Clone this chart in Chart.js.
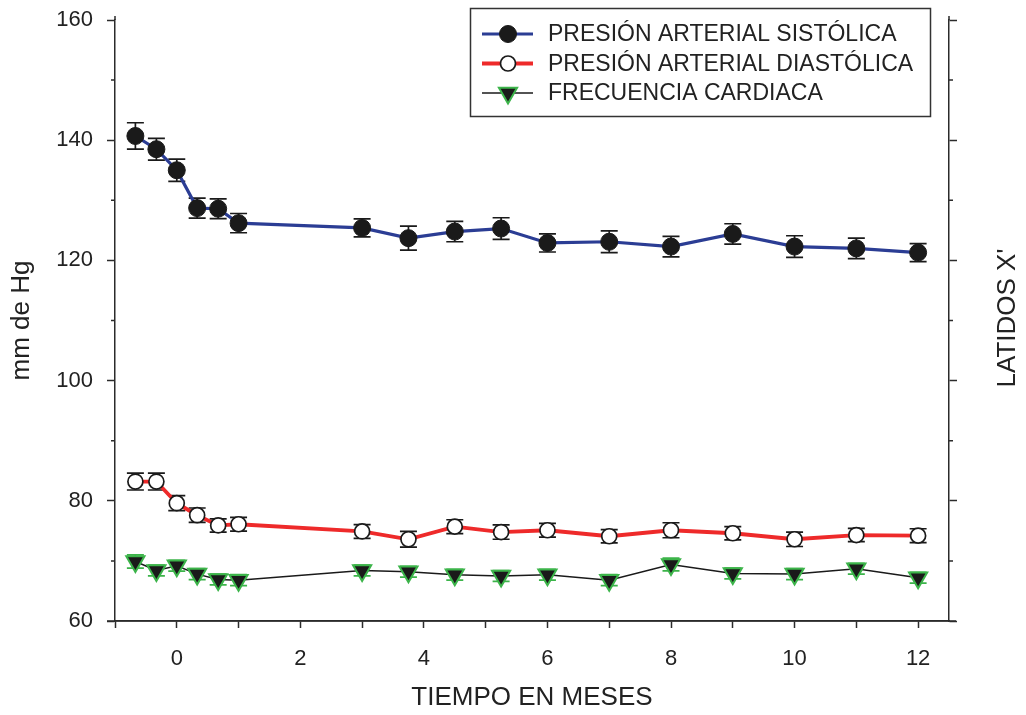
<!DOCTYPE html>
<html>
<head>
<meta charset="utf-8">
<script src="https://cdn.jsdelivr.net/npm/chart.js"></script>
<style>
  body { margin: 0; background: #fff; }
  #wrap { width: 1026px; height: 715px; }
</style>
</head>
<body>
<div id="wrap"><canvas id="grafico" width="1026" height="715"></canvas></div>
<script>
// Datos
const meses = [-0.67, -0.33, 0, 0.33, 0.67, 1, 3, 3.75, 4.5, 5.25, 6, 7, 8, 9, 10, 11, 12];
const sistolica = [140.7, 138.5, 135.0, 128.7, 128.6, 126.2, 125.4, 123.7, 124.8, 125.3, 122.9, 123.1, 122.3, 124.4, 122.3, 122.0, 121.3];
const sistolicaErr = [2.2, 1.8, 1.85, 1.65, 1.65, 1.6, 1.5, 2.0, 1.7, 1.8, 1.5, 1.8, 1.7, 1.7, 1.8, 1.7, 1.5];
const diastolica = [83.2, 83.2, 79.6, 77.6, 75.9, 76.1, 74.9, 73.6, 75.7, 74.8, 75.1, 74.1, 75.1, 74.6, 73.6, 74.3, 74.2];
const diastolicaErr = [1.4, 1.4, 1.25, 1.2, 1.1, 1.15, 1.15, 1.3, 1.15, 1.2, 1.15, 1.1, 1.25, 1.1, 1.2, 1.1, 1.15];
const frecuencia = [69.9, 68.4, 69.2, 67.8, 66.9, 66.8, 68.4, 68.2, 67.7, 67.5, 67.7, 66.8, 69.4, 67.9, 67.8, 68.7, 67.2];
const frecuenciaErr = [1.1, 0.9, 0.9, 0.9, 0.9, 0.9, 0.9, 0.9, 0.9, 0.9, 0.9, 0.9, 1.05, 0.9, 0.9, 0.9, 0.9];

const ticksX = [-1, 0, 1, 2, 3, 4, 5, 6, 7, 8, 9, 10, 11, 12];
const etiquetas = ['PRESIÓN ARTERIAL SISTÓLICA', 'PRESIÓN ARTERIAL DIASTÓLICA', 'FRECUENCIA CARDIACA'];

const FUENTE = "'Liberation Sans', Arial, sans-serif";
const EJE = '#2b2b2b';

function puntos(ys) {
    return meses.map((m, i) => ({ x: m, y: ys[i] }));
}

// Barras de error, dibujadas antes de cada serie
const barrasError = {
    id: 'barrasError',
    beforeDatasetDraw(chart, args) {
        const ds = chart.data.datasets[args.index];
        if (!ds.errores) return;
        const ctx = chart.ctx;
        const yScale = chart.scales[ds.yAxisID || 'y'];
        ctx.save();
        ctx.strokeStyle = ds.colorError;
        ctx.lineWidth = 1.7;
        args.meta.data.forEach((pt, i) => {
            const v = ds.data[i].y;
            const yTop = yScale.getPixelForValue(v + ds.errores[i]);
            const yBot = yScale.getPixelForValue(v - ds.errores[i]);
            ctx.beginPath();
            ctx.moveTo(pt.x, yTop); ctx.lineTo(pt.x, yBot);
            ctx.moveTo(pt.x - 8.5, yTop); ctx.lineTo(pt.x + 8.5, yTop);
            ctx.moveTo(pt.x - 8.5, yBot); ctx.lineTo(pt.x + 8.5, yBot);
            ctx.stroke();
        });
        ctx.restore();
    }
};

function marca(ctx, ds, x, y) {
    ctx.fillStyle = ds.pointBackgroundColor;
    ctx.strokeStyle = ds.pointBorderColor;
    ctx.lineWidth = ds.pointBorderWidth;
    Chart.helpers.drawPoint(ctx, {
        pointStyle: ds.pointStyle,
        radius: ds.pointRadius,
        rotation: ds.pointRotation || 0,
        borderWidth: ds.pointBorderWidth
    }, x, y);
}

// Marcas menores, prolongación del eje X, título derecho y leyenda
const decoracion = {
    id: 'decoracion',
    afterDraw(chart) {
        const ctx = chart.ctx;
        const area = chart.chartArea;
        ctx.save();
        ctx.strokeStyle = EJE;
        ctx.lineWidth = 1.5;
        ctx.beginPath();
        [70, 90, 110, 130, 150].forEach(v => {
            const py = chart.scales.y.getPixelForValue(v);
            ctx.moveTo(area.left, py); ctx.lineTo(area.left - 4, py);
            const py2 = chart.scales.y2.getPixelForValue(v);
            ctx.moveTo(area.right, py2); ctx.lineTo(area.right + 4, py2);
        });
        ctx.moveTo(area.left - 8, area.bottom); ctx.lineTo(area.right + 7, area.bottom);
        ctx.moveTo(area.left, area.top); ctx.lineTo(area.left, area.top - 4);
        ctx.moveTo(area.right, area.top); ctx.lineTo(area.right, area.top - 4);
        ctx.stroke();

        // título del eje derecho
        ctx.fillStyle = '#222';
        ctx.font = '26px ' + FUENTE;
        ctx.textAlign = 'center';
        ctx.textBaseline = 'middle';
        ctx.translate(1008, 318);
        ctx.rotate(-Math.PI / 2);
        ctx.fillText("LATIDOS X'", 0, 0);
        ctx.restore();

        // leyenda
        ctx.save();
        ctx.strokeStyle = '#333';
        ctx.lineWidth = 1.5;
        ctx.strokeRect(470.5, 8.5, 460, 108);
        ctx.font = '23px ' + FUENTE;
        ctx.textAlign = 'left';
        ctx.textBaseline = 'middle';
        chart.data.datasets.forEach((ds, i) => {
            const y = 34 + i * 29.5;
            ctx.strokeStyle = ds.borderColor;
            ctx.lineWidth = ds.borderWidth;
            ctx.beginPath();
            ctx.moveTo(482, y); ctx.lineTo(533, y);
            ctx.stroke();
            marca(ctx, ds, 508, y);
            ctx.fillStyle = '#222';
            ctx.fillText(ds.label, 548, y + 1);
        });
        ctx.restore();
    }
};

function sinMargenVertical(s, ancho) {
    s.width = ancho;
    s.paddingTop = 0;
    s.paddingBottom = 0;
}

const ctx = document.getElementById('grafico').getContext('2d');
new Chart(ctx, {
    type: 'scatter',
    data: {
        datasets: [
            {
                label: etiquetas[0],
                data: puntos(sistolica),
                errores: sistolicaErr,
                colorError: '#1a1a1a',
                showLine: true,
                borderColor: '#2b3d94',
                borderWidth: 3.2,
                pointStyle: 'circle',
                pointRadius: 8.5,
                pointBackgroundColor: '#1a1a1a',
                pointBorderColor: '#1a1a1a',
                pointBorderWidth: 1
            },
            {
                label: etiquetas[1],
                data: puntos(diastolica),
                errores: diastolicaErr,
                colorError: '#1a1a1a',
                showLine: true,
                borderColor: '#ee2a2a',
                borderWidth: 3.8,
                pointStyle: 'circle',
                pointRadius: 7.5,
                pointBackgroundColor: '#ffffff',
                pointBorderColor: '#1a1a1a',
                pointBorderWidth: 1.7
            },
            {
                label: etiquetas[2],
                data: puntos(frecuencia),
                errores: frecuenciaErr,
                colorError: '#3cb44a',
                yAxisID: 'y2',
                showLine: true,
                borderColor: '#1a1a1a',
                borderWidth: 1.5,
                pointStyle: 'triangle',
                pointRotation: 180,
                pointRadius: 10.5,
                pointBackgroundColor: '#1a1a1a',
                pointBorderColor: '#3cb44a',
                pointBorderWidth: 2
            }
        ]
    },
    options: {
        responsive: false,
        animation: false,
        layout: { padding: { top: 20, left: 0, right: 0, bottom: 0 } },
        plugins: {
            legend: { display: false },
            tooltip: { enabled: false }
        },
        scales: {
            x: {
                type: 'linear',
                min: -1,
                max: 12.5,
                afterFit: (s) => { s.height = 94; s.paddingLeft = 0; s.paddingRight = 0; },
                afterBuildTicks: (s) => { s.ticks = ticksX.map(v => ({ value: v })); },
                ticks: {
                    autoSkip: false,
                    maxRotation: 0,
                    padding: 18,
                    color: '#222',
                    font: { family: FUENTE, size: 22 },
                    callback: (v) => (v % 2 === 0 && v >= 0) ? String(v) : ''
                },
                grid: {
                    drawOnChartArea: false,
                    tickLength: 7,
                    tickWidth: 1.5,
                    tickColor: EJE
                },
                border: { color: EJE, width: 1.5 },
                title: {
                    display: true,
                    text: 'TIEMPO EN MESES',
                    color: '#222',
                    font: { family: FUENTE, size: 26 },
                    padding: { top: 0, bottom: 2 }
                }
            },
            y: {
                position: 'left',
                min: 60,
                max: 160,
                afterFit: (s) => sinMargenVertical(s, 115),
                ticks: {
                    stepSize: 10,
                    padding: 14,
                    color: '#222',
                    font: { family: FUENTE, size: 22 },
                    callback: (v) => (v % 20 === 0) ? String(v) : ''
                },
                grid: {
                    drawOnChartArea: false,
                    tickLength: 8,
                    tickWidth: 1.5,
                    tickColor: (c) => (c.tick && c.tick.value % 20 === 0) ? EJE : 'rgba(0,0,0,0)'
                },
                border: { color: EJE, width: 1.5 },
                title: {
                    display: true,
                    text: 'mm de Hg',
                    color: '#222',
                    font: { family: FUENTE, size: 26 },
                    padding: { top: 6, bottom: 0 }
                }
            },
            y2: {
                position: 'right',
                min: 60,
                max: 160,
                afterFit: (s) => sinMargenVertical(s, 77),
                ticks: {
                    stepSize: 10,
                    callback: () => ''
                },
                grid: {
                    drawOnChartArea: false,
                    tickLength: 8,
                    tickWidth: 1.5,
                    tickColor: (c) => (c.tick && c.tick.value % 20 === 0) ? EJE : 'rgba(0,0,0,0)'
                },
                border: { color: EJE, width: 1.5 }
            }
        }
    },
    plugins: [barrasError, decoracion]
});
</script>
</body>
</html>
